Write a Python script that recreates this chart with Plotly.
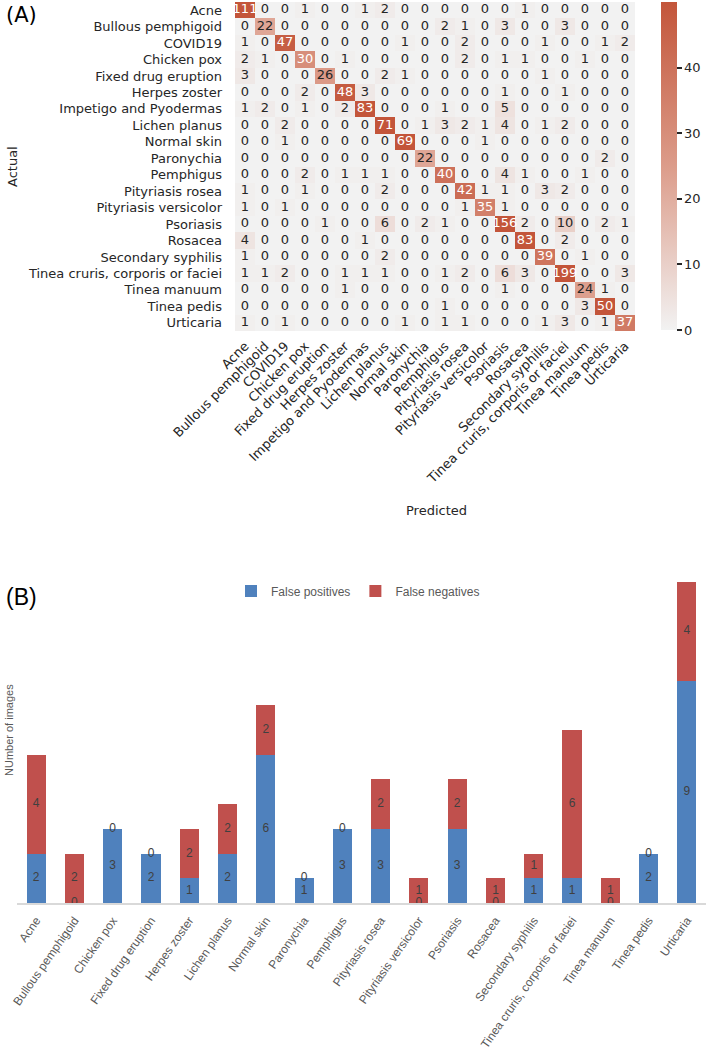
import plotly.graph_objects as go

# ---------------- Panel A data: confusion matrix ----------------
classes = [
    "Acne", "Bullous pemphigoid", "COVID19", "Chicken pox", "Fixed drug eruption",
    "Herpes zoster", "Impetigo and Pyodermas", "Lichen planus", "Normal skin",
    "Paronychia", "Pemphigus", "Pityriasis rosea", "Pityriasis versicolor",
    "Psoriasis", "Rosacea", "Secondary syphilis", "Tinea cruris, corporis or faciei",
    "Tinea manuum", "Tinea pedis", "Urticaria",
]

cm = [
    [111, 0, 0, 1, 0, 0, 1, 2, 0, 0, 0, 0, 0, 0, 1, 0, 0, 0, 0, 0],
    [0, 22, 0, 0, 0, 0, 0, 0, 0, 0, 2, 1, 0, 3, 0, 0, 3, 0, 0, 0],
    [1, 0, 47, 0, 0, 0, 0, 0, 1, 0, 0, 2, 0, 0, 0, 1, 0, 0, 1, 2],
    [2, 1, 0, 30, 0, 1, 0, 0, 0, 0, 0, 2, 0, 1, 1, 0, 0, 1, 0, 0],
    [3, 0, 0, 0, 26, 0, 0, 2, 1, 0, 0, 0, 0, 0, 0, 1, 0, 0, 0, 0],
    [0, 0, 0, 2, 0, 48, 3, 0, 0, 0, 0, 0, 0, 1, 0, 0, 1, 0, 0, 0],
    [1, 2, 0, 1, 0, 2, 83, 0, 0, 0, 1, 0, 0, 5, 0, 0, 0, 0, 0, 0],
    [0, 0, 2, 0, 0, 0, 0, 71, 0, 1, 3, 2, 1, 4, 0, 1, 2, 0, 0, 0],
    [0, 0, 1, 0, 0, 0, 0, 0, 69, 0, 0, 0, 1, 0, 0, 0, 0, 0, 0, 0],
    [0, 0, 0, 0, 0, 0, 0, 0, 0, 22, 0, 0, 0, 0, 0, 0, 0, 0, 2, 0],
    [0, 0, 0, 2, 0, 1, 1, 1, 0, 0, 40, 0, 0, 4, 1, 0, 0, 1, 0, 0],
    [1, 0, 0, 1, 0, 0, 0, 2, 0, 0, 0, 42, 1, 1, 0, 3, 2, 0, 0, 0],
    [1, 0, 1, 0, 0, 0, 0, 0, 0, 0, 0, 1, 35, 1, 0, 0, 0, 0, 0, 0],
    [0, 0, 0, 0, 1, 0, 0, 6, 0, 2, 1, 0, 0, 156, 2, 0, 10, 0, 2, 1],
    [4, 0, 0, 0, 0, 0, 1, 0, 0, 0, 0, 0, 0, 0, 83, 0, 2, 0, 0, 0],
    [1, 0, 0, 0, 0, 0, 0, 2, 0, 0, 0, 0, 0, 0, 0, 39, 0, 1, 0, 0],
    [1, 1, 2, 0, 0, 1, 1, 1, 0, 0, 1, 2, 0, 6, 3, 0, 199, 0, 0, 3],
    [0, 0, 0, 0, 0, 1, 0, 0, 0, 0, 0, 0, 0, 1, 0, 0, 0, 24, 1, 0],
    [0, 0, 0, 0, 0, 0, 0, 0, 0, 0, 1, 0, 0, 0, 0, 0, 0, 3, 50, 0],
    [1, 0, 1, 0, 0, 0, 0, 0, 1, 0, 1, 1, 0, 0, 0, 1, 3, 0, 1, 37],
]
cbar_ticks = [0, 10, 20, 30, 40]

# ---------------- Panel B data: FP / FN per class ----------------
b_classes = [
    "Acne", "Bullous pemphigoid", "Chicken pox", "Fixed drug eruption", "Herpes zoster",
    "Lichen planus", "Normal skin", "Paronychia", "Pemphigus", "Pityriasis rosea",
    "Pityriasis versicolor", "Psoriasis", "Rosacea", "Secondary syphilis",
    "Tinea cruris, corporis or faciei", "Tinea manuum", "Tinea pedis", "Urticaria",
]
false_pos = [2, 0, 3, 2, 1, 2, 6, 1, 3, 3, 0, 3, 0, 1, 1, 0, 2, 9]
false_neg = [4, 2, 0, 0, 2, 2, 2, 0, 0, 2, 1, 2, 1, 1, 6, 1, 0, 4]

W, H = 709, 1051
MPL = "DejaVu Sans"
XL = "Liberation Sans"

fig = go.Figure()

# heatmap
fig.add_trace(go.Heatmap(
    z=cm, x=classes, y=classes, zmin=0, zmax=50,
    colorscale=[[0, "#f2f2f2"], [0.5, "#dc9c8a"], [1, "#c3553a"]],
    xaxis="x", yaxis="y", hoverinfo="skip",
    colorbar=dict(
        x=661 / W, xanchor="left", xpad=0, ypad=0, thickness=16, thicknessmode="pixels",
        len=(330 - 2) / H, lenmode="fraction", y=1 - 166 / H, yanchor="middle",
        outlinewidth=0, ticks="outside", ticklen=5, tickwidth=1.5, tickcolor="#262626",
        tickvals=cbar_ticks, tickfont=dict(family=MPL, size=13, color="#262626"),
    ),
))

tx, ty, tt, tc = [], [], [], []
for i, r in enumerate(classes):
    for j, c in enumerate(classes):
        v = cm[i][j]
        tx.append(c)
        ty.append(r)
        tt.append(str(v))
        tc.append("white" if v >= 28 else "#262626")
fig.add_trace(go.Scatter(
    x=tx, y=ty, text=tt, mode="text", xaxis="x", yaxis="y",
    textfont=dict(family=MPL, size=13, color=tc), showlegend=False, hoverinfo="skip",
))

# stacked bars
fig.add_trace(go.Bar(
    x=b_classes, y=false_pos, name="False positives", marker_color="#4f81bd",
    marker_line=dict(width=0), width=0.5, xaxis="x2", yaxis="y2", hoverinfo="skip",
))
fig.add_trace(go.Bar(
    x=b_classes, y=false_neg, name="False negatives", marker_color="#c0504d",
    marker_line=dict(width=0), width=0.5, xaxis="x2", yaxis="y2", hoverinfo="skip",
))
fig.add_trace(go.Scatter(
    x=b_classes, y=[v / 2 for v in false_pos], text=[str(v) for v in false_pos],
    mode="text", textfont=dict(family=XL, size=12, color="#404040"),
    xaxis="x2", yaxis="y2", showlegend=False, hoverinfo="skip",
))
fig.add_trace(go.Scatter(
    x=b_classes, y=[p + n / 2 for p, n in zip(false_pos, false_neg)],
    text=[str(v) for v in false_neg],
    mode="text", textfont=dict(family=XL, size=12, color="#404040"),
    xaxis="x2", yaxis="y2", showlegend=False, hoverinfo="skip",
))

n_a = len(classes)
n_b = len(b_classes)

fig.update_layout(
    width=W, height=H, margin=dict(l=0, r=0, t=0, b=0, autoexpand=False),
    paper_bgcolor="white", plot_bgcolor="white",
    barmode="stack",
    xaxis=dict(
        domain=[235 / W, 635 / W], anchor="y", type="category", automargin=False,
        range=[-0.5, n_a - 0.5],
        tickmode="array", tickvals=classes, ticktext=classes,
        tickangle=-45, tickfont=dict(family=MPL, size=13, color="#262626"),
        ticks="", showgrid=False, zeroline=False, showline=False, ticklabelstandoff=4,
    ),
    yaxis=dict(
        domain=[1 - 331 / H, 1 - 2 / H], anchor="x", type="category", automargin=False,
        range=[n_a - 0.5, -0.5],
        tickmode="array", tickvals=classes, ticktext=classes,
        tickfont=dict(family=MPL, size=13, color="#262626"),
        ticks="", showgrid=False, zeroline=False, showline=False, ticklabelstandoff=12,
    ),
    xaxis2=dict(
        domain=[17 / W, 706 / W], anchor="y2", type="category", automargin=False,
        range=[-0.5, n_b - 0.5],
        tickmode="array", tickvals=b_classes, ticktext=b_classes,
        tickangle=-55, tickfont=dict(family=XL, size=12, color="#595959"),
        ticks="", showgrid=False, zeroline=False, showline=True,
        linecolor="#d9d9d9", linewidth=1.5, ticklabelstandoff=4,
    ),
    yaxis2=dict(
        domain=[1 - 903 / H, 1 - 557 / H], anchor="x2", range=[0, 14], automargin=False,
        showticklabels=False, ticks="", showgrid=False, zeroline=False, showline=False,
    ),
    legend=dict(
        orientation="h", x=358 / W, xanchor="center", y=1 - 591 / H, yanchor="middle",
        font=dict(family=XL, size=12, color="#595959"), traceorder="normal",
        bgcolor="rgba(0,0,0,0)",
    ),
    annotations=[
        dict(text="(A)", x=4 / W, y=1 - 15 / H, xref="paper", yref="paper",
             xanchor="left", yanchor="middle", showarrow=False,
             font=dict(family=MPL, size=21, color="black")),
        dict(text="(B)", x=4 / W, y=1 - 597 / H, xref="paper", yref="paper",
             xanchor="left", yanchor="middle", showarrow=False,
             font=dict(family=XL, size=23, color="black")),
        dict(text="Actual", x=12 / W, y=1 - 167 / H, xref="paper", yref="paper",
             xanchor="center", yanchor="middle", textangle=-90, showarrow=False,
             font=dict(family=MPL, size=13, color="#262626")),
        dict(text="Predicted", x=436 / W, y=1 - 510 / H, xref="paper", yref="paper",
             xanchor="center", yanchor="middle", showarrow=False,
             font=dict(family=MPL, size=13, color="#262626")),
        dict(text="NUmber of images", x=9 / W, y=1 - 730 / H, xref="paper", yref="paper",
             xanchor="center", yanchor="middle", textangle=-90, showarrow=False,
             font=dict(family=XL, size=11, color="#595959")),
    ],
)

fig.write_html(
    "out.html",
    config={"displayModeBar": False},
    post_script="document.body.style.margin='0';document.body.style.padding='0';",
)
